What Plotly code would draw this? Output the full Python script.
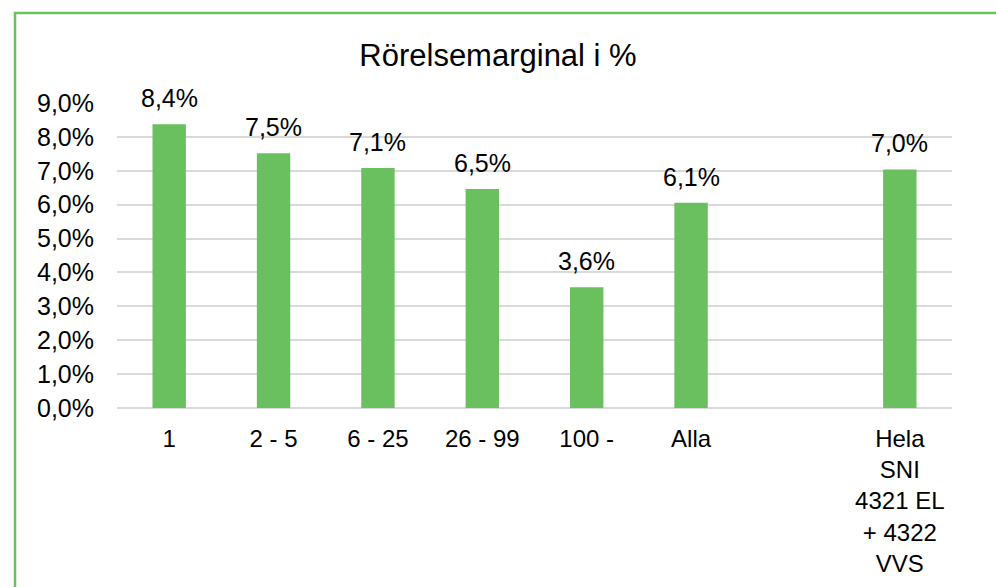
import plotly.graph_objects as go

categories = ["1", "2 - 5", "6 - 25", "26 - 99", "100 -", "Alla", " ",
              "Hela<br>SNI<br>4321 EL<br>+ 4322<br>VVS"]
values = [8.37, 7.52, 7.08, 6.46, 3.56, 6.06, None, 7.04]
tick_vals = [0, 1, 2, 3, 4, 5, 6, 7, 8, 9]
tick_text = ["0,0%", "1,0%", "2,0%", "3,0%", "4,0%", "5,0%", "6,0%", "7,0%", "8,0%", "9,0%"]
title_text = "Rörelsemarginal i %"

GREEN = "#6abf5e"
FONT = "Liberation Sans, Arial, sans-serif"

fig = go.Figure()
fig.add_trace(go.Bar(x=categories, y=values, marker=dict(color=GREEN, line=dict(width=0)),
                     hoverinfo="skip"))

for i, v in enumerate(values):
    if v is None:
        continue
    fig.add_annotation(x=i, y=v, xref="x", yref="y",
                       text=f"{v:.1f}".replace(".", ",") + "%",
                       showarrow=False, yanchor="bottom", yshift=10,
                       font=dict(family=FONT, size=25, color="#000000"))

L, R, T, B = 117, 44, 103, 179
W, H = 996, 587
pw = W - L - R
ph = H - T - B

fig.add_shape(type="rect", xref="paper", yref="paper",
              x0=(15 - L) / pw, x1=1.3, y0=-1.0, y1=(H - B - 13) / ph,
              line=dict(color="#6cc25e", width=2.5), fillcolor="rgba(0,0,0,0)", layer="below")

fig.update_layout(
    width=W, height=H,
    margin=dict(l=L, r=R, t=T, b=B, autoexpand=False),
    paper_bgcolor="white", plot_bgcolor="white",
    showlegend=False,
    bargap=0.68,
    title=dict(text=title_text, x=0.5, xref="container", xanchor="center",
               y=1 - 55 / H, yanchor="middle",
               font=dict(family=FONT, size=31, color="#000000")),
    font=dict(family=FONT, size=24, color="#000000"),
    xaxis=dict(type="category", showgrid=False, showline=False, zeroline=False,
               automargin=False,
               ticks="", tickfont=dict(family=FONT, size=24, color="#000000"),
               ticklabelstandoff=14),
    yaxis=dict(range=[0, 9], tickvals=tick_vals, ticktext=tick_text,
               automargin=False,
               showgrid=True, gridcolor="#d9d9d9", gridwidth=1.5,
               zeroline=True, zerolinecolor="#d9d9d9", zerolinewidth=1.5,
               showline=False, ticks="",
               tickfont=dict(family=FONT, size=25, color="#000000"),
               ticklabelstandoff=22),
)

fig.write_html("out.html", config={"displayModeBar": False},
               post_script="document.body.style.margin='0';")
